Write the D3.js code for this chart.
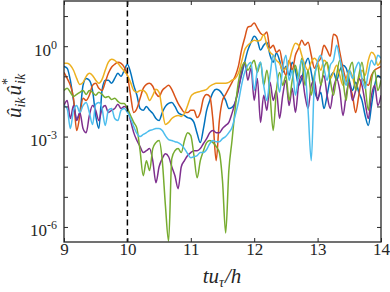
<!DOCTYPE html>
<html lang="en">
<head>
  <meta charset="UTF-8" />
  <title>Modal energy vs time</title>
  <style>
    body { margin: 0; background: #fff; }
    svg { display: block; }
    svg text { font-family: "Liberation Serif", "DejaVu Serif", serif !important; fill: #262626; }
    .axis path, .axis line { stroke: #262626; }
  </style>
</head>
<body>
  <svg width="390" height="292"></svg>

  <script src="https://d3js.org/d3.v7.min.js"></script>
  <script>
    // time grid: tu_tau/h from 9 to 14, step 0.05
    const t = d3.range(101).map(i => 9 + i * 0.05);

    // series values, stored as log10 of u_ik u*_ik
    const blue = [-0.67,-0.73,-1.13,-1.8,-2.4,-2.2,-1.3,-1.07,-1.13,-1.47,-2.3,-2.73,-1.47,-1.13,-1.13,-1.23,-1.07,-0.9,-1.0,-0.8,
      -0.6,-0.87,-1.3,-1.63,-2.07,-2.13,-2.0,-2.13,-2.23,-2.4,-2.47,-2.2,-2.0,-1.9,-1.87,-2.0,-2.2,-2.27,-2.3,-2.37,
      -2.4,-2.53,-2.9,-3.2,-2.73,-2.13,-1.8,-1.53,-1.43,-1.47,-1.6,-1.8,-2.07,-2.03,-1.87,-1.4,-0.97,-0.53,-0.13,0.13,
      0.33,0.2,-0.13,0.03,0.13,-0.3,-0.53,-0.23,-0.47,-0.87,-0.67,-0.97,-0.53,-0.8,-1.3,-1.07,-0.63,-0.4,-0.87,-1.47,
      -1.73,-1.53,-2.07,-1.63,-1.07,-0.87,-1.13,-0.8,-0.63,-0.73,-1.13,-1.47,-1.2,-1.53,-1.8,-2.3,-2.63,-1.97,-1.3,-0.97,-1.07];
    const orange = [-0.87,-1.07,-1.3,-1.73,-2.8,-2.3,-1.73,-1.8,-1.63,-1.3,-1.23,-1.4,-1.47,-1.2,-0.9,-0.7,-0.6,-0.53,-0.57,-0.7,
      -0.97,-1.63,-2.2,-2.07,-1.73,-1.4,-1.27,-1.23,-1.33,-1.57,-1.67,-1.47,-1.37,-1.3,-1.43,-1.67,-1.9,-2.07,-2.2,-2.2,
      -2.13,-2.13,-2.37,-2.2,-1.73,-1.6,-1.67,-2.47,-3.8,-2.47,-1.8,-1.6,-1.4,-1.2,-1.0,-0.67,-0.13,0.27,0.63,0.67,
      0.77,0.6,0.43,0.37,0.47,-0.07,0.03,-0.2,-0.13,-0.63,-0.97,-0.47,-0.8,-0.3,-0.07,0.2,0.03,0.13,-0.3,-0.73,
      -0.53,-0.4,0.03,-0.13,-0.33,0.4,0.33,-0.2,-0.73,-1.13,-1.3,-1.63,-2.2,-1.63,-1.07,-1.2,-1.3,-0.97,-0.8,-0.73,-0.67];
    const yellow = [-0.57,-0.57,-0.63,-0.8,-1.07,-1.27,-1.2,-1.0,-0.9,-0.97,-1.13,-1.23,-1.1,-0.8,-0.53,-0.43,-0.47,-0.57,-0.7,-0.83,
      -0.97,-1.2,-1.47,-1.53,-1.47,-1.47,-1.57,-1.8,-1.63,-1.43,-1.53,-2.13,-2.6,-2.53,-2.4,-2.33,-2.3,-2.33,-2.23,-1.97,
      -1.67,-1.57,-1.53,-1.5,-1.47,-1.43,-1.33,-1.27,-1.23,-1.23,-1.23,-1.23,-1.2,-1.13,-1.07,-0.9,-0.53,-0.13,0.03,0.13,
      0.2,0.17,0.2,0.4,0.03,-0.2,-0.3,-0.47,-0.57,-0.8,-0.73,-0.53,-0.13,0.1,0.03,-0.3,-0.63,-0.8,-0.53,-0.4,
      -0.53,-0.8,-0.47,-0.6,-1.07,-0.87,-0.63,-0.97,-1.3,-1.07,-0.8,-1.0,-1.4,-1.13,-0.8,-0.97,-0.47,-0.2,-0.3,-0.63,-0.47];
    const purple = [-1.97,-1.8,-2.4,-1.97,-2.47,-2.2,-2.73,-2.87,-2.3,-1.97,-2.13,-2.47,-2.07,-1.97,-2.2,-2.13,-2.07,-1.93,-2.07,-2.0,
      -2.07,-2.47,-2.87,-3.13,-3.33,-3.53,-3.47,-3.4,-3.8,-4.53,-4.0,-3.73,-3.57,-3.67,-4.0,-4.3,-4.73,-4.0,-3.8,-3.63,
      -3.53,-3.47,-3.47,-3.4,-3.23,-3.07,-2.87,-2.8,-2.87,-2.87,-2.73,-2.63,-2.53,-2.23,-1.87,-1.47,-0.87,-0.53,-1.13,-0.73,
      -1.8,-1.07,-2.53,-1.63,-2.13,-1.2,-1.8,-1.47,-2.4,-1.63,-1.13,-1.97,-1.4,-2.2,-1.3,-0.97,-1.63,-2.07,-1.3,-1.13,
      -1.8,-1.3,-0.97,-1.63,-2.07,-1.4,-1.07,-1.47,-2.3,-1.63,-1.2,-1.8,-1.47,-1.07,-1.3,-1.87,-2.4,-1.63,-1.3,-1.97,-1.63];
    const green = [-1.47,-1.4,-1.53,-1.67,-1.6,-1.53,-1.47,-1.6,-1.47,-1.53,-1.63,-1.53,-1.6,-1.7,-1.67,-1.77,-1.73,-1.83,-1.9,-1.9,
      -2.07,-2.3,-2.53,-2.73,-3.47,-4.3,-3.8,-4.13,-3.4,-3.2,-3.13,-3.8,-5.3,-6.47,-3.73,-3.47,-3.4,-3.53,-3.13,-2.87,
      -2.97,-3.63,-4.37,-3.8,-3.47,-3.2,-3.13,-3.2,-3.33,-3.53,-4.47,-6.2,-4.13,-3.13,-2.07,-1.2,-0.73,-0.53,-0.8,-0.63,
      -0.47,-0.87,-0.53,-1.3,-0.8,-1.63,-2.8,-1.47,-0.87,-1.3,-0.97,-1.8,-1.13,-0.63,-1.07,-0.4,-1.3,-0.8,-1.63,-0.97,
      -0.63,-1.3,-0.73,-0.53,-1.13,-1.63,-0.97,-0.47,-1.13,-1.8,-0.8,-0.53,-1.47,-0.97,-0.53,-1.3,-2.13,-1.13,-0.8,-1.47,-1.13];
    const cyan = [-1.97,-2.07,-2.73,-2.13,-1.97,-2.2,-1.97,-1.87,-2.2,-2.6,-1.93,-1.87,-2.07,-2.63,-2.13,-2.07,-2.4,-2.47,-2.13,-2.07,
      -2.2,-2.4,-2.67,-2.9,-3.0,-2.93,-2.87,-2.8,-2.77,-2.73,-2.73,-2.8,-2.97,-3.1,-3.13,-3.17,-3.2,-3.27,-3.4,-3.57,
      -3.7,-3.67,-3.63,-3.53,-3.53,-3.43,-3.23,-3.13,-3.17,-3.17,-3.07,-3.0,-2.87,-2.7,-2.3,-1.87,-1.3,-0.87,-0.63,-0.53,
      -1.47,-0.8,-0.53,-1.3,-1.8,-0.97,-0.3,-0.8,-1.53,-0.73,-0.3,-1.13,-0.8,-1.63,-0.97,-0.47,-0.8,-2.13,-3.8,-1.13,
      -0.53,-0.3,-0.73,-1.13,-0.63,-0.47,0.03,-0.4,-0.87,-1.3,-0.8,-1.07,-0.73,-0.53,-1.07,-1.4,-0.87,-0.47,-0.63,-0.3,-0.4];

    const seriesNames = ["blue", "orange", "yellow", "purple", "green", "cyan"];
    const seriesData = [blue, orange, yellow, purple, green, cyan];
    const colors = ["#0072BD", "#D95319", "#EDB120", "#7E2F8E", "#77AC30", "#4DBEEE"];

    const xTicks = [9, 10, 11, 12, 13, 14];
    const yTickExps = [-6, -5, -4, -3, -2, -1, 0, 1];
    const yLabelExps = [-6, -3, 0];
    const markerT = 10;

    const svg = d3.select("svg");
    const L = 64, R = 381, T = 1, B = 242;
    const serif = '"Liberation Serif", "DejaVu Serif", serif';

    const x = d3.scaleLinear().domain([9, 14]).range([L, R]);
    const y = d3.scaleLog().domain([Math.pow(10, -6.5), Math.pow(10, 1.5)]).range([B, T]);

    svg.append("clipPath").attr("id", "clip")
      .append("rect").attr("x", L).attr("y", T).attr("width", R - L).attr("height", B - T);

    const line = d3.line()
      .x((d, i) => x(t[i]))
      .y(d => y(Math.pow(10, d)))
      .curve(d3.curveMonotoneX);

    const plot = svg.append("g").attr("clip-path", "url(#clip)");
    plot.selectAll("path.series")
      .data(seriesData)
      .join("path")
      .attr("class", (d, i) => "series " + seriesNames[i])
      .attr("d", d => line(d))
      .attr("fill", "none")
      .attr("stroke", (d, i) => colors[i])
      .attr("stroke-width", 1.5)
      .attr("stroke-linejoin", "round");

    // dashed marker at t = 10
    svg.append("line")
      .attr("x1", x(markerT)).attr("x2", x(markerT))
      .attr("y1", T).attr("y2", B)
      .attr("stroke", "#000")
      .attr("stroke-width", 1.5)
      .attr("stroke-dasharray", "6,3.5");

    // axes with inward ticks on all four sides
    const yTickVals = yTickExps.map(e => Math.pow(10, e));

    svg.append("g").attr("class", "axis")
      .attr("transform", `translate(0,${B})`)
      .call(d3.axisBottom(x).tickValues(xTicks).tickSize(-4).tickSizeOuter(0).tickPadding(1).tickFormat(d3.format("d")))
      .call(g => g.attr("font-family", serif).attr("font-size", 17))
      .call(g => g.selectAll("text").attr("fill", "#262626"));

    svg.append("g").attr("class", "axis")
      .attr("transform", `translate(0,${T})`)
      .call(d3.axisTop(x).tickValues(xTicks).tickSize(-4).tickSizeOuter(0).tickFormat(""));

    svg.append("g").attr("class", "axis")
      .attr("transform", `translate(${L},0)`)
      .call(d3.axisLeft(y).tickValues(yTickVals).tickSize(-4).tickSizeOuter(0).tickFormat(""));

    svg.append("g").attr("class", "axis")
      .attr("transform", `translate(${R},0)`)
      .call(d3.axisRight(y).tickValues(yTickVals).tickSize(-4).tickSizeOuter(0).tickFormat(""));

    svg.selectAll(".axis .domain").remove();

    svg.append("rect")
      .attr("x", L).attr("y", T).attr("width", R - L).attr("height", B - T)
      .attr("fill", "none").attr("stroke", "#262626").attr("stroke-width", 1.3);

    // y tick labels 10^e
    const yl = svg.append("g");
    yLabelExps.forEach(e => {
      const txt = yl.append("text")
        .attr("x", L - 7)
        .attr("y", y(Math.pow(10, e)) + 9.5)
        .attr("text-anchor", "end")
        .attr("font-size", 17);
      txt.append("tspan").text("10");
      txt.append("tspan").attr("dy", -7).attr("font-size", 12).text(String(e));
    });

    // x axis title: t u_tau / h
    const xt = svg.append("text")
      .attr("x", 222).attr("y", 283)
      .attr("text-anchor", "middle")
      .attr("font-size", 21)
      .attr("font-style", "italic");
    xt.append("tspan").text("tu");
    xt.append("tspan").attr("dy", 4).attr("font-size", 14).text("τ");
    xt.append("tspan").attr("dy", -4).attr("dx", 1).text("/h");

    // y axis title: u^_ik u^*_ik
    const ytl = svg.append("text")
      .attr("transform", "translate(21,96) rotate(-90)")
      .attr("text-anchor", "middle")
      .attr("font-size", 21)
      .attr("font-style", "italic");
    ytl.append("tspan").text("û");
    ytl.append("tspan").attr("dy", 4).attr("font-size", 14).text("ik");
    ytl.append("tspan").attr("dy", -4).attr("dx", 2).text("û");
    ytl.append("tspan").attr("dy", -9).attr("font-size", 14).attr("font-style", "normal").text("*");
    ytl.append("tspan").attr("dy", 13).attr("dx", -6).attr("font-size", 14).text("ik");
  </script>
</body>
</html>
